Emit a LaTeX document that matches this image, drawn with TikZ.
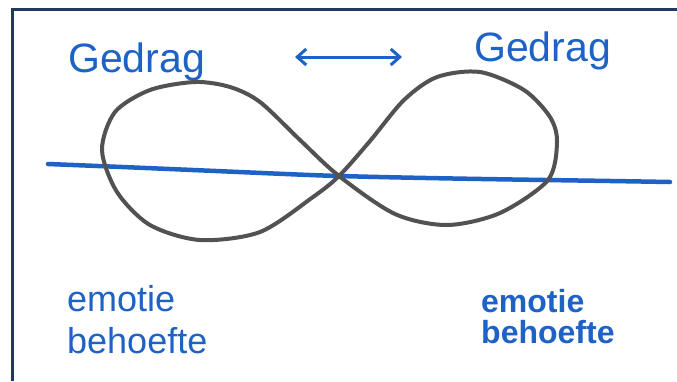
\documentclass[tikz,border=0pt]{standalone}
\usepackage{fontspec}
\setmainfont{Liberation Sans}
\definecolor{pen}{RGB}{30,98,198}
\definecolor{pencil}{RGB}{82,82,84}
\definecolor{frame}{RGB}{32,56,102}
\usetikzlibrary{arrows.meta,positioning}

\begin{document}
\begin{tikzpicture}[x=1pt,y=-1pt,
    word/.style={text=pen,inner sep=0pt,font=\fontsize{41}{44}\selectfont},
    need/.style={text=pen,inner sep=0pt,align=left},
    penline/.style={pen,line width=4.5pt,line cap=round}]
        \useasboundingbox (0,0) rectangle (677,381);
        \fill[white] (0,0) rectangle (677,381);
        \draw[frame,line width=3pt] (12.5,381) -- (12.5,9.5) -- (677,9.5);
        % labels
        \node[word,anchor=base west] (gedragL) at (68,72) {Gedrag};
        \node[word,anchor=base west] (gedragR) at (474,61) {Gedrag};
        \node[need,anchor=north west,font=\fontsize{36}{42}\selectfont]
          (emotieL) at (67,285) {emotie\\behoefte};
        \node[need,anchor=north west,font=\fontsize{32}{31}\selectfont\bfseries]
          (emotieR) at (481,289) {emotie\\behoefte};
        \coordinate (arrL) at (295,57);
        \coordinate (arrR) at (402,57);
        \draw[pen,line width=3pt,{Straight Barb[length=9pt,width=16pt]}-{Straight Barb[length=9pt,width=16pt]}]
          (arrL) -- (arrR);
        % horizon
        \draw[penline] (48,164) .. controls (200,170) and (300,175) .. (339,176)
          .. controls (450,179) and (560,180) .. (670,182);
        % loop
        \draw[pencil,line width=4pt] plot[smooth cycle,tension=0.5] coordinates {
          (339,176) (370,141) (404,100) (437,77) (480,72) (524,90) (550,117)
          (557,142) (548,180) (500,213) (447,225) (395,214) (339,176)
          (300,140) (260,102) (230,87) (195,82) (150,90) (115,112) (102,150)
          (117,192) (150,225) (200,240) (260,232) (313,197)};
      \end{tikzpicture}
\end{document}
